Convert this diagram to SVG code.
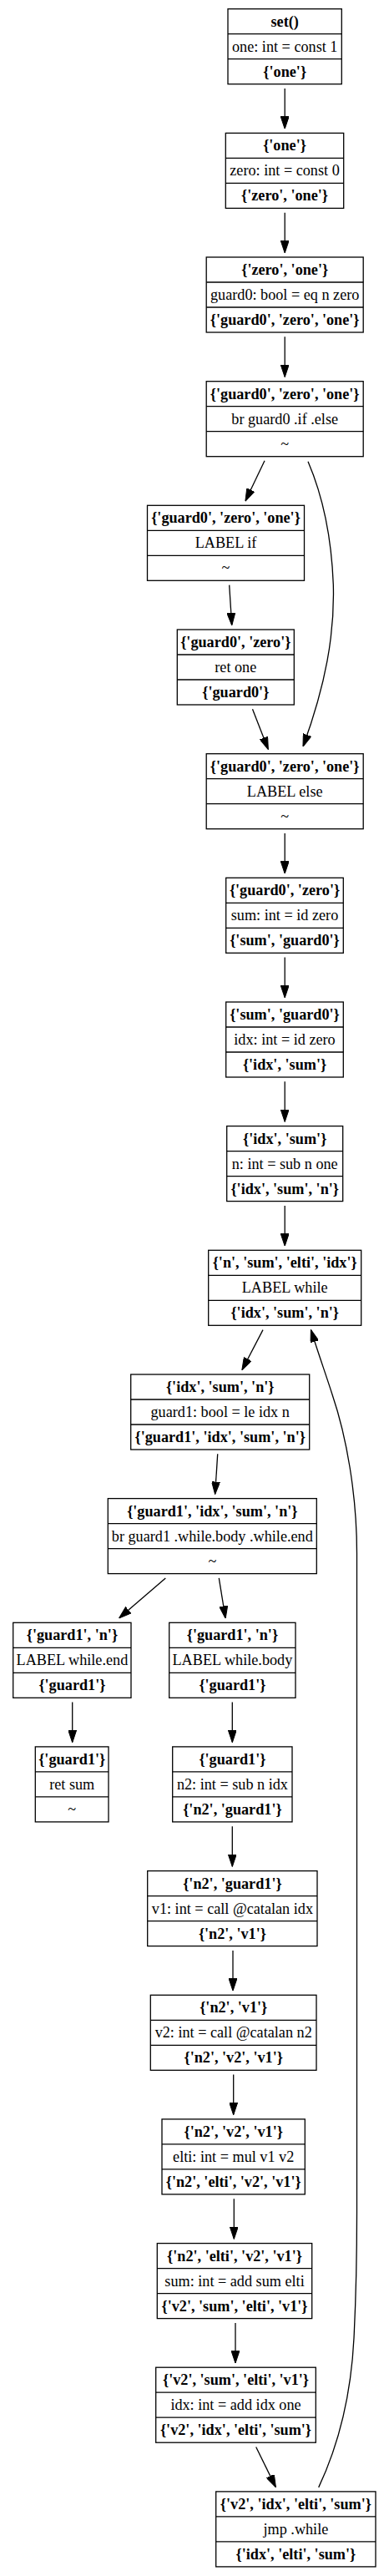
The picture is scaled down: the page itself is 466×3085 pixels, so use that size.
<svg xmlns="http://www.w3.org/2000/svg" width="466" height="3085" viewBox="0 0 466 3085">
<style>
.box{fill:#fff;stroke:#000;stroke-width:1.3}
.sep{stroke:#000;stroke-width:1.3}
text{font-family:"Liberation Serif","Times New Roman",serif;font-size:18.2px;text-anchor:middle;fill:#000}
.b{font-weight:bold}
.e{fill:none;stroke:#000;stroke-width:1.3;marker-end:url(#ah)}
</style>
<defs>
<marker id="ah" viewBox="0 0 15 10" refX="14" refY="5" markerWidth="15" markerHeight="10" markerUnits="userSpaceOnUse" orient="auto">
<path d="M0,0 L15,5 L0,10 z" fill="#000" stroke="#000" stroke-width="1"/>
</marker>
</defs>
<rect width="466" height="3085" fill="#fff"/>
<g id="edges">
<path class="e" d="M341.2,106 L341.2,153.4"/>
<path class="e" d="M341.2,254.7 L341.2,302"/>
<path class="e" d="M341.2,403.3 L341.2,450.7"/>
<path class="e" d="M317,551.7 L294.3,599.3"/>
<path class="e" d="M369,552.7 C385,590 397,640 399.3,700 C401,760 390,820 363.3,893.3"/>
<path class="e" d="M274.7,700.6 L277.7,748"/>
<path class="e" d="M302.5,849.3 L321,896.7"/>
<path class="e" d="M341.2,998 L341.2,1045.3"/>
<path class="e" d="M341.2,1146.6 L341.2,1194"/>
<path class="e" d="M341.2,1295.3 L341.2,1342.6"/>
<path class="e" d="M341.2,1443.9 L341.2,1491.3"/>
<path class="e" d="M315,1592.6 L290.3,1640"/>
<path class="e" d="M260.7,1741.3 L257.7,1788.6"/>
<path class="e" d="M198.3,1889.9 L143.3,1937.3"/>
<path class="e" d="M262.3,1889.9 L270,1937.3"/>
<path class="e" d="M86.7,2038.6 L86.7,2085.9"/>
<path class="e" d="M278.3,2038.6 L278.3,2085.9"/>
<path class="e" d="M278.3,2187.2 L278.3,2234.6"/>
<path class="e" d="M279,2335.9 L279,2383.3"/>
<path class="e" d="M279.7,2484.6 L279.7,2531.9"/>
<path class="e" d="M280.3,2633.2 L280.3,2680.6"/>
<path class="e" d="M282,2781.9 L282,2829.2"/>
<path class="e" d="M306.7,2930.5 L330,2977.9"/>
<path class="e" d="M381.7,2978.9 C400,2940 420,2880 424,2800 C427,2740 427.5,2700 427.5,2650 L427.5,1860 C427.5,1790 415,1720 398,1670 C390,1645 381,1620 372.7,1593.3"/>
</g>
<g id="n0"><rect class="box" x="273" y="10.7" width="136.3" height="90"/><line class="sep" x1="273" y1="40.7" x2="409.3" y2="40.7"/><line class="sep" x1="273" y1="70.7" x2="409.3" y2="70.7"/><text class="b" x="341.2" y="31.7">set()</text><text x="341.2" y="61.7">one: int = const 1</text><text class="b" x="341.2" y="91.7">{'one'}</text></g>
<g id="n1"><rect class="box" x="270.3" y="159.4" width="141.4" height="90"/><line class="sep" x1="270.3" y1="189.4" x2="411.7" y2="189.4"/><line class="sep" x1="270.3" y1="219.4" x2="411.7" y2="219.4"/><text class="b" x="341" y="180.4">{'one'}</text><text x="341" y="210.4">zero: int = const 0</text><text class="b" x="341" y="240.4">{'zero', 'one'}</text></g>
<g id="n2"><rect class="box" x="247.2" y="308" width="188" height="90"/><line class="sep" x1="247.2" y1="338" x2="435.2" y2="338"/><line class="sep" x1="247.2" y1="368" x2="435.2" y2="368"/><text class="b" x="341.2" y="329">{'zero', 'one'}</text><text x="341.2" y="359">guard0: bool = eq n zero</text><text class="b" x="341.2" y="389">{'guard0', 'zero', 'one'}</text></g>
<g id="n3"><rect class="box" x="247.2" y="456.7" width="188" height="90"/><line class="sep" x1="247.2" y1="486.7" x2="435.2" y2="486.7"/><line class="sep" x1="247.2" y1="516.7" x2="435.2" y2="516.7"/><text class="b" x="341.2" y="477.7">{'guard0', 'zero', 'one'}</text><text x="341.2" y="507.7">br guard0 .if .else</text><text x="341.2" y="537.7">~</text></g>
<g id="n4"><rect class="box" x="176.5" y="605.3" width="188" height="90"/><line class="sep" x1="176.5" y1="635.3" x2="364.5" y2="635.3"/><line class="sep" x1="176.5" y1="665.3" x2="364.5" y2="665.3"/><text class="b" x="270.5" y="626.3">{'guard0', 'zero', 'one'}</text><text x="270.5" y="656.3">LABEL if</text><text x="270.5" y="686.3">~</text></g>
<g id="n5"><rect class="box" x="212.3" y="754" width="140" height="90"/><line class="sep" x1="212.3" y1="784" x2="352.3" y2="784"/><line class="sep" x1="212.3" y1="814" x2="352.3" y2="814"/><text class="b" x="282.3" y="775">{'guard0', 'zero'}</text><text x="282.3" y="805">ret one</text><text class="b" x="282.3" y="835">{'guard0'}</text></g>
<g id="n6"><rect class="box" x="247.2" y="902.7" width="188" height="90"/><line class="sep" x1="247.2" y1="932.7" x2="435.2" y2="932.7"/><line class="sep" x1="247.2" y1="962.7" x2="435.2" y2="962.7"/><text class="b" x="341.2" y="923.7">{'guard0', 'zero', 'one'}</text><text x="341.2" y="953.7">LABEL else</text><text x="341.2" y="983.7">~</text></g>
<g id="n7"><rect class="box" x="270.7" y="1051.3" width="140.6" height="90"/><line class="sep" x1="270.7" y1="1081.3" x2="411.3" y2="1081.3"/><line class="sep" x1="270.7" y1="1111.3" x2="411.3" y2="1111.3"/><text class="b" x="341" y="1072.3">{'guard0', 'zero'}</text><text x="341" y="1102.3">sum: int = id zero</text><text class="b" x="341" y="1132.3">{'sum', 'guard0'}</text></g>
<g id="n8"><rect class="box" x="270.7" y="1200" width="140.6" height="90"/><line class="sep" x1="270.7" y1="1230" x2="411.3" y2="1230"/><line class="sep" x1="270.7" y1="1260" x2="411.3" y2="1260"/><text class="b" x="341" y="1221">{'sum', 'guard0'}</text><text x="341" y="1251">idx: int = id zero</text><text class="b" x="341" y="1281">{'idx', 'sum'}</text></g>
<g id="n9"><rect class="box" x="271.7" y="1348.6" width="139" height="90"/><line class="sep" x1="271.7" y1="1378.6" x2="410.7" y2="1378.6"/><line class="sep" x1="271.7" y1="1408.6" x2="410.7" y2="1408.6"/><text class="b" x="341.2" y="1369.6">{'idx', 'sum'}</text><text x="341.2" y="1399.6">n: int = sub n one</text><text class="b" x="341.2" y="1429.6">{'idx', 'sum', 'n'}</text></g>
<g id="n10"><rect class="box" x="249.7" y="1497.3" width="183" height="90"/><line class="sep" x1="249.7" y1="1527.3" x2="432.7" y2="1527.3"/><line class="sep" x1="249.7" y1="1557.3" x2="432.7" y2="1557.3"/><text class="b" x="341.2" y="1518.3">{'n', 'sum', 'elti', 'idx'}</text><text x="341.2" y="1548.3">LABEL while</text><text class="b" x="341.2" y="1578.3">{'idx', 'sum', 'n'}</text></g>
<g id="n11"><rect class="box" x="156.7" y="1646" width="214" height="90"/><line class="sep" x1="156.7" y1="1676" x2="370.7" y2="1676"/><line class="sep" x1="156.7" y1="1706" x2="370.7" y2="1706"/><text class="b" x="263.7" y="1667">{'idx', 'sum', 'n'}</text><text x="263.7" y="1697">guard1: bool = le idx n</text><text class="b" x="263.7" y="1727">{'guard1', 'idx', 'sum', 'n'}</text></g>
<g id="n12"><rect class="box" x="129.3" y="1794.6" width="250" height="90"/><line class="sep" x1="129.3" y1="1824.6" x2="379.3" y2="1824.6"/><line class="sep" x1="129.3" y1="1854.6" x2="379.3" y2="1854.6"/><text class="b" x="254.3" y="1815.6">{'guard1', 'idx', 'sum', 'n'}</text><text x="254.3" y="1845.6">br guard1 .while.body .while.end</text><text x="254.3" y="1875.6">~</text></g>
<g id="n13a"><rect class="box" x="15.7" y="1943.3" width="141.3" height="90"/><line class="sep" x1="15.7" y1="1973.3" x2="157" y2="1973.3"/><line class="sep" x1="15.7" y1="2003.3" x2="157" y2="2003.3"/><text class="b" x="86.4" y="1964.3">{'guard1', 'n'}</text><text x="86.4" y="1994.3">LABEL while.end</text><text class="b" x="86.4" y="2024.3">{'guard1'}</text></g>
<g id="n13b"><rect class="box" x="202.7" y="1943.3" width="151.3" height="90"/><line class="sep" x1="202.7" y1="1973.3" x2="354" y2="1973.3"/><line class="sep" x1="202.7" y1="2003.3" x2="354" y2="2003.3"/><text class="b" x="278.4" y="1964.3">{'guard1', 'n'}</text><text x="278.4" y="1994.3">LABEL while.body</text><text class="b" x="278.4" y="2024.3">{'guard1'}</text></g>
<g id="n14a"><rect class="box" x="42.3" y="2091.9" width="87.7" height="90"/><line class="sep" x1="42.3" y1="2121.9" x2="130" y2="2121.9"/><line class="sep" x1="42.3" y1="2151.9" x2="130" y2="2151.9"/><text class="b" x="86.2" y="2112.9">{'guard1'}</text><text x="86.2" y="2142.9">ret sum</text><text x="86.2" y="2172.9">~</text></g>
<g id="n14b"><rect class="box" x="206.7" y="2091.9" width="143.3" height="90"/><line class="sep" x1="206.7" y1="2121.9" x2="350" y2="2121.9"/><line class="sep" x1="206.7" y1="2151.9" x2="350" y2="2151.9"/><text class="b" x="278.4" y="2112.9">{'guard1'}</text><text x="278.4" y="2142.9">n2: int = sub n idx</text><text class="b" x="278.4" y="2172.9">{'n2', 'guard1'}</text></g>
<g id="n15"><rect class="box" x="176.7" y="2240.6" width="203.3" height="90"/><line class="sep" x1="176.7" y1="2270.6" x2="380" y2="2270.6"/><line class="sep" x1="176.7" y1="2300.6" x2="380" y2="2300.6"/><text class="b" x="278.4" y="2261.6">{'n2', 'guard1'}</text><text x="278.4" y="2291.6">v1: int = call @catalan idx</text><text class="b" x="278.4" y="2321.6">{'n2', 'v1'}</text></g>
<g id="n16"><rect class="box" x="180.3" y="2389.3" width="198.7" height="90"/><line class="sep" x1="180.3" y1="2419.3" x2="379" y2="2419.3"/><line class="sep" x1="180.3" y1="2449.3" x2="379" y2="2449.3"/><text class="b" x="279.7" y="2410.3">{'n2', 'v1'}</text><text x="279.7" y="2440.3">v2: int = call @catalan n2</text><text class="b" x="279.7" y="2470.3">{'n2', 'v2', 'v1'}</text></g>
<g id="n17"><rect class="box" x="194" y="2537.9" width="171.3" height="90"/><line class="sep" x1="194" y1="2567.9" x2="365.3" y2="2567.9"/><line class="sep" x1="194" y1="2597.9" x2="365.3" y2="2597.9"/><text class="b" x="279.7" y="2558.9">{'n2', 'v2', 'v1'}</text><text x="279.7" y="2588.9">elti: int = mul v1 v2</text><text class="b" x="279.7" y="2618.9">{'n2', 'elti', 'v2', 'v1'}</text></g>
<g id="n18"><rect class="box" x="188.3" y="2686.6" width="185.4" height="90"/><line class="sep" x1="188.3" y1="2716.6" x2="373.7" y2="2716.6"/><line class="sep" x1="188.3" y1="2746.6" x2="373.7" y2="2746.6"/><text class="b" x="281" y="2707.6">{'n2', 'elti', 'v2', 'v1'}</text><text x="281" y="2737.6">sum: int = add sum elti</text><text class="b" x="281" y="2767.6">{'v2', 'sum', 'elti', 'v1'}</text></g>
<g id="n19"><rect class="box" x="186.7" y="2835.2" width="191.6" height="90"/><line class="sep" x1="186.7" y1="2865.2" x2="378.3" y2="2865.2"/><line class="sep" x1="186.7" y1="2895.2" x2="378.3" y2="2895.2"/><text class="b" x="282.5" y="2856.2">{'v2', 'sum', 'elti', 'v1'}</text><text x="282.5" y="2886.2">idx: int = add idx one</text><text class="b" x="282.5" y="2916.2">{'v2', 'idx', 'elti', 'sum'}</text></g>
<g id="n20"><rect class="box" x="258.7" y="2983.9" width="191.3" height="90"/><line class="sep" x1="258.7" y1="3013.9" x2="450" y2="3013.9"/><line class="sep" x1="258.7" y1="3043.9" x2="450" y2="3043.9"/><text class="b" x="354.4" y="3004.9">{'v2', 'idx', 'elti', 'sum'}</text><text x="354.4" y="3034.9">jmp .while</text><text class="b" x="354.4" y="3064.9">{'idx', 'elti', 'sum'}</text></g>
</svg>
